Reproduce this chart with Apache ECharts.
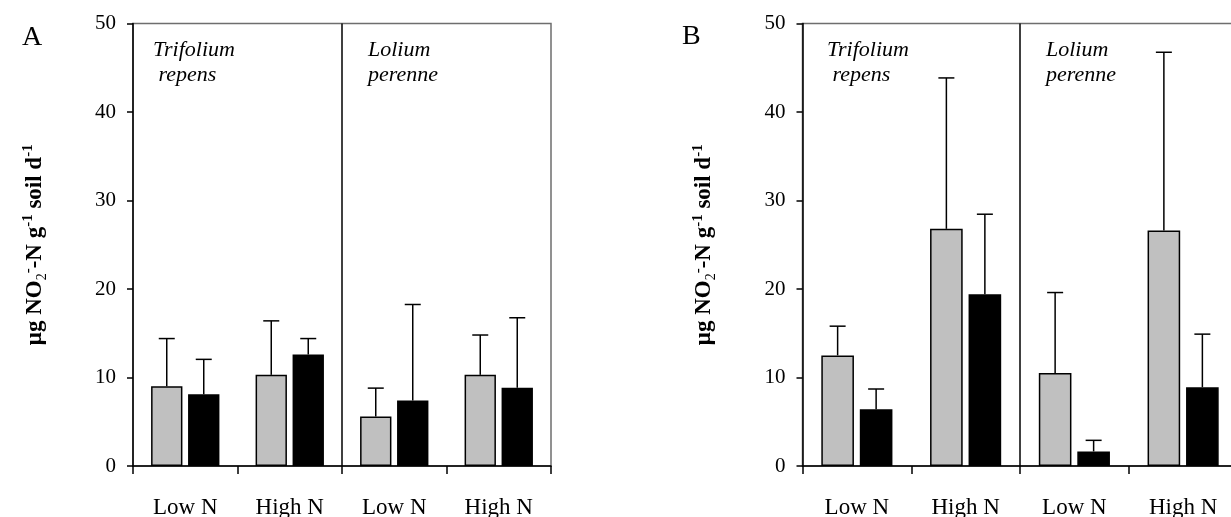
<!DOCTYPE html>
<html>
<head>
<meta charset="utf-8">
<script src="https://cdn.jsdelivr.net/npm/echarts@6/dist/echarts.min.js"></script>
<style>
  html, body { margin: 0; padding: 0; background: #fff; }
  #main { width: 1231px; height: 517px; }
</style>
</head>
<body>
<div id="main"></div>
<script>
// N treatments, first two Trifolium repens, last two Lolium perenne
var categories = ['Low N', 'High N', 'Low N', 'High N'];
var yTicks = [0, 10, 20, 30, 40, 50];

// panel A: means and error (upper bar length)
var aGrey = [9.0, 10.3, 5.6, 10.3];
var aGreyErr = [5.4, 6.1, 3.2, 4.5];
var aBlack = [8.1, 12.6, 7.4, 8.85];
var aBlackErr = [3.95, 1.8, 10.85, 7.9];

// panel B
var bGrey = [12.5, 26.8, 10.5, 26.6];
var bGreyErr = [3.3, 17.05, 9.1, 20.15];
var bBlack = [6.4, 19.4, 1.65, 8.9];
var bBlackErr = [2.3, 9.05, 1.25, 6.0];

var FONT = 'Liberation Serif';

function errData(means, errs) {
  return means.map(function (m, i) { return [i, m, m + errs[i]]; });
}

// side: -1 grey bar (left), +1 black bar (right)
function errRender(side) {
  return function (params, api) {
    var i = api.value(0);
    var band = api.size([1, 0])[0];
    var off = side * 0.177 * band;
    var lo = api.coord([i, api.value(1)]);
    var hi = api.coord([i, api.value(2)]);
    var x = lo[0] + off;
    var cap = 8;
    var st = { stroke: '#000', lineWidth: 1.5 };
    return {
      type: 'group',
      children: [
        { type: 'line', shape: { x1: x, y1: lo[1], x2: x, y2: hi[1] }, style: st },
        { type: 'line', shape: { x1: x - cap, y1: hi[1], x2: x + cap, y2: hi[1] }, style: st }
      ]
    };
  };
}

// vertical line between the two species (right edge of category 1)
function dividerRender(params, api) {
  var band = api.size([1, 0])[0];
  var lo = api.coord([api.value(0), api.value(1)]);
  var hi = api.coord([api.value(0), api.value(2)]);
  var x = lo[0] + band / 2;
  return { type: 'line', shape: { x1: x, y1: lo[1], x2: x, y2: hi[1] }, style: { stroke: '#000', lineWidth: 1.5 } };
}

var yName = '{b|μg NO}{sub|2}{sup|-}{b|-N g}{sup|-1}{b| soil d}{sup|-1}';
var nameRich = {
  b: { fontFamily: FONT, fontWeight: 'bold', fontSize: 23, color: '#000', lineHeight: 28 },
  sup: { fontFamily: FONT, fontWeight: 'bold', fontSize: 15, color: '#000', lineHeight: 14, verticalAlign: 'top' },
  sub: { fontFamily: FONT, fontWeight: 'normal', fontSize: 14, color: '#000', lineHeight: 16, verticalAlign: 'bottom' }
};

function makeX(idx) {
  return {
    type: 'category',
    gridIndex: idx,
    data: categories,
    axisLine: { lineStyle: { color: '#000', width: 1.5 } },
    axisTick: { show: true, length: 8, alignWithLabel: false, lineStyle: { color: '#000', width: 1.5 } },
    axisLabel: { fontFamily: FONT, fontSize: 23, color: '#000', margin: 30, interval: 0 },
    splitLine: { show: false }
  };
}

function makeY(idx) {
  return {
    type: 'value',
    gridIndex: idx,
    min: yTicks[0],
    max: yTicks[yTicks.length - 1],
    interval: 10,
    name: yName,
    nameLocation: 'middle',
    nameRotate: 90,
    nameGap: 84,
    nameTextStyle: { rich: nameRich },
    axisLine: { show: true, lineStyle: { color: '#000', width: 1.5 } },
    axisTick: { show: true, length: 6, lineStyle: { color: '#000', width: 1.5 } },
    axisLabel: { fontFamily: FONT, fontSize: 21, color: '#000', margin: 17 },
    splitLine: { show: false }
  };
}

function bars(idx, grey, black) {
  return [
    {
      type: 'bar', xAxisIndex: idx, yAxisIndex: idx, data: grey,
      barWidth: '30%', barGap: '18%',
      itemStyle: { color: '#c0c0c0', borderColor: '#000', borderWidth: 1.5 }
    },
    {
      type: 'bar', xAxisIndex: idx, yAxisIndex: idx, data: black,
      barWidth: '30%', barGap: '18%',
      itemStyle: { color: '#000', borderColor: '#000', borderWidth: 1.5 }
    }
  ];
}

function errs(idx, data, side) {
  return {
    type: 'custom', xAxisIndex: idx, yAxisIndex: idx, z: 5,
    data: data, renderItem: errRender(side)
  };
}

function divider(idx) {
  return {
    type: 'custom', xAxisIndex: idx, yAxisIndex: idx, z: 4,
    data: [[1, yTicks[0], yTicks[yTicks.length - 1]]], renderItem: dividerRender
  };
}

var speciesStyle = { fontFamily: FONT, fontStyle: 'italic', fontSize: 22, fill: '#000', lineHeight: 25 };
function label(x, y, text, extra) {
  var s = Object.assign({}, speciesStyle, extra || {}, { text: text });
  return { type: 'text', x: x, y: y, style: s };
}

var chart = echarts.init(document.getElementById('main'));
var option = {
  animation: false,
  backgroundColor: '#fff',
  textStyle: { fontFamily: FONT },
  grid: [
    { left: 133, top: 23.5, width: 418, height: 442.5, outerBoundsMode: 'none', containLabel: false,
      show: true, borderColor: '#6e6e6e', borderWidth: 1.5 },
    { left: 802.5, top: 23.5, width: 435, height: 442.5, outerBoundsMode: 'none', containLabel: false,
      show: true, borderColor: '#6e6e6e', borderWidth: 1.5 }
  ],
  xAxis: [makeX(0), makeX(1)],
  yAxis: [makeY(0), makeY(1)],
  series: [].concat(
    bars(0, aGrey, aBlack),
    bars(1, bGrey, bBlack),
    [
      divider(0),
      divider(1),
      errs(0, errData(aGrey, aGreyErr), -1),
      errs(0, errData(aBlack, aBlackErr), 1),
      errs(1, errData(bGrey, bGreyErr), -1),
      errs(1, errData(bBlack, bBlackErr), 1)
    ]
  ),
  graphic: [
    label(22, 24, 'A', { fontStyle: 'normal', fontSize: 28, lineHeight: 28 }),
    label(682, 23, 'B', { fontStyle: 'normal', fontSize: 28, lineHeight: 28 }),
    label(153, 38, 'Trifolium\n repens'),
    label(368, 38, 'Lolium\nperenne'),
    label(827, 38, 'Trifolium\n repens'),
    label(1046, 38, 'Lolium\nperenne')
  ]
};
chart.setOption(option);
</script>
</body>
</html>
